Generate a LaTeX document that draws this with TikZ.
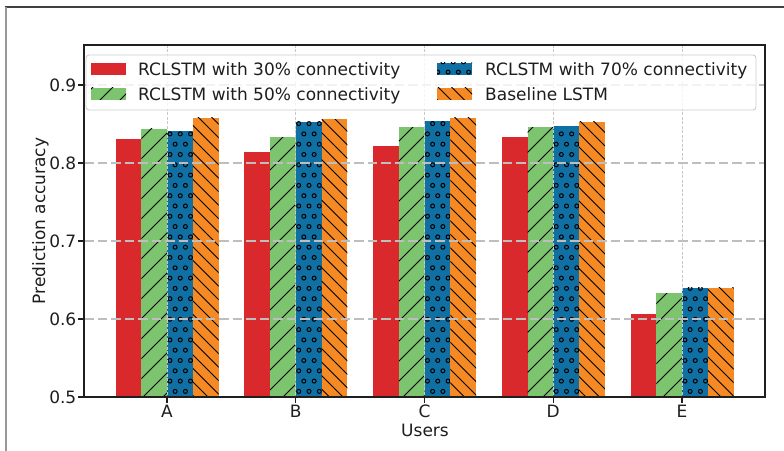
\documentclass[tikz,border=0pt]{standalone}
\usepackage{fontspec}
\setmainfont{DejaVu Sans}
\definecolor{cred}{RGB}{217,41,45}
\definecolor{cgreen}{RGB}{124,196,110}
\definecolor{cblue}{RGB}{17,112,163}
\definecolor{corange}{RGB}{245,138,36}
\definecolor{ctext}{RGB}{30,30,30}
\definecolor{hgrid}{RGB}{190,190,190}
\definecolor{vgrid}{RGB}{200,200,200}
\tikzset{
  hatchline/.style={black, line width=0.9bp},
  ringline/.style={black, line width=1.0bp},
  hgridline/.style={hgrid, line width=2.6bp, dash pattern=on 9.5bp off 4bp},
  vgridline/.style={vgrid, line width=0.8bp, dash pattern=on 3bp off 1.5bp},
  spine/.style={black!88, line width=1.4bp},
  tickline/.style={black!88, line width=1.2bp},
  lab/.style={text=ctext, inner sep=0pt, font=\fontsize{17bp}{20bp}\selectfont},
}
% '/' hatch: x0 x1 ytop ybottom spacing (y downward)
\newcommand\myhatchNE[5]{%
  \begin{scope}
    \clip (#1,#3) rectangle (#2,#4);
    \pgfmathtruncatemacro\hnlo{floor((#1+#3)/#5)-1}
    \pgfmathtruncatemacro\hnhi{ceil((#2+#4)/#5)+1}
    \foreach \n in {\hnlo,...,\hnhi}{
      \pgfmathsetmacro\hkk{\n*#5}
      \draw[hatchline] (\hkk-#3+3,#3-3) -- (\hkk-#4-3,#4+3);
    }
  \end{scope}}
% '\' hatch
\newcommand\myhatchNW[5]{%
  \begin{scope}
    \clip (#1,#3) rectangle (#2,#4);
    \pgfmathtruncatemacro\hnlo{floor((#1-#4)/#5)-1}
    \pgfmathtruncatemacro\hnhi{ceil((#2-#3)/#5)+1}
    \foreach \n in {\hnlo,...,\hnhi}{
      \pgfmathsetmacro\hkk{\n*#5}
      \draw[hatchline] (\hkk+#3-3,#3-3) -- (\hkk+#4+3,#4+3);
    }
  \end{scope}}
% 'o' hatch, staggered rings
\newcommand\myhatchO[4]{%
  \begin{scope}
    \clip (#1,#3) rectangle (#2,#4);
    \pgfmathtruncatemacro\hjlo{floor(#3/10.3)-1}
    \pgfmathtruncatemacro\hjhi{ceil(#4/10.3)+1}
    \pgfmathtruncatemacro\hilo{floor(#1/10.3)-1}
    \pgfmathtruncatemacro\hihi{ceil(#2/10.3)+1}
    \foreach \j in {\hjlo,...,\hjhi}{
      \pgfmathsetmacro\hoff{mod(\j,2)*5.15}
      \foreach \i in {\hilo,...,\hihi}{
        \draw[ringline] (\i*10.3+\hoff,\j*10.3) circle[radius=2.0];
      }
    }
  \end{scope}}
\newcommand\bargroup[5]{%
  \pgfmathsetmacro\bxA{167+128.75*(#1)-51.5}
  \pgfmathsetmacro\bxB{\bxA+25.75}
  \pgfmathsetmacro\bxC{\bxA+51.5}
  \pgfmathsetmacro\bxD{\bxA+77.25}
  \pgfmathsetmacro\bxE{\bxA+103}
  \pgfmathsetmacro\byR{397-(#2-0.5)*780}
  \pgfmathsetmacro\byG{397-(#3-0.5)*780}
  \pgfmathsetmacro\byB{397-(#4-0.5)*780}
  \pgfmathsetmacro\byO{397-(#5-0.5)*780}
  \fill[cred] (\bxA,\byR) rectangle (\bxB,397);
  \fill[cgreen] (\bxB,\byG) rectangle (\bxC,397);
  \myhatchNE{\bxB}{\bxC}{\byG}{397}{20}
  \fill[cblue] (\bxC,\byB) rectangle (\bxD,397);
  \myhatchO{\bxC}{\bxD}{\byB}{397}
  \fill[corange] (\bxD,\byO) rectangle (\bxE,397);
  \myhatchNW{\bxD}{\bxE}{\byO}{397}{13.5}
}
\begin{document}
\begin{tikzpicture}[x=1bp,y=-1bp]
\useasboundingbox (0,0) rectangle (784,451);
\fill[white] (0,0) rectangle (784,451);
% outer page frame
\draw[black!75, line width=1.2bp] (5,7) -- (784,7);
\draw[black!40, line width=1.8bp] (6,7) -- (6,451);
% bars
\bargroup{0}{0.831}{0.844}{0.841}{0.858}
\bargroup{1}{0.814}{0.833}{0.853}{0.856}
\bargroup{2}{0.822}{0.846}{0.854}{0.858}
\bargroup{3}{0.833}{0.846}{0.847}{0.853}
\bargroup{4}{0.606}{0.633}{0.640}{0.640}
% grid
\foreach \v in {0.6,0.7,0.8,0.9}{
  \pgfmathsetmacro\gy{397-(\v-0.5)*780}
  \draw[hgridline] (84,\gy) -- (765,\gy);
}
\foreach \i in {0,...,4}{
  \pgfmathsetmacro\gx{167+128.75*\i}
  \draw[vgridline] (\gx,45) -- (\gx,397);
}
% spines
\draw[spine] (84,45) rectangle (765,397);
% y ticks
\foreach \v/\nm in {0.5/ya,0.6/yb,0.7/yc,0.8/yd,0.9/ye}{
  \pgfmathsetmacro\gy{397-(\v-0.5)*780}
  \draw[tickline] (78,\gy) -- (84,\gy);
  \node[lab, anchor=base east] (\nm) at (76.5,\gy+6.2) {\v};
}
% x ticks
\foreach \i/\t in {0/A,1/B,2/C,3/D,4/E}{
  \pgfmathsetmacro\gx{167+128.75*\i}
  \draw[tickline] (\gx,397) -- (\gx,402.5);
  \node[lab, anchor=base] (x\t) at (\gx,417.5) {\t};
}
% axis labels
\node[lab, anchor=base] (xlabel) at (425,436.5) {Users};
\node[lab, anchor=base, rotate=90] (ylabel) at (45,221) {Prediction accuracy};
% legend
\draw[draw=black!20, fill=white, fill opacity=0.8, line width=0.9bp, rounded corners=3bp] (86,55) rectangle (756,110);
\fill[cred] (91,63) rectangle (126,75);
\fill[cgreen] (91,88) rectangle (126,100);
\myhatchNE{91}{126}{88}{100}{20}
\fill[cblue] (437,63) rectangle (472,75);
\myhatchO{437}{472}{63}{75}
\fill[corange] (437,88) rectangle (472,100);
\myhatchNW{437}{472}{88}{100}{13.5}
\node[lab, anchor=base west] (l1) at (138,75.2) {RCLSTM with 30\% connectivity};
\node[lab, anchor=base west] (l2) at (138,100.2) {RCLSTM with 50\% connectivity};
\node[lab, anchor=base west] (l3) at (485,75.2) {RCLSTM with 70\% connectivity};
\node[lab, anchor=base west] (l4) at (485,100.2) {Baseline LSTM};
\end{tikzpicture}
\end{document}
